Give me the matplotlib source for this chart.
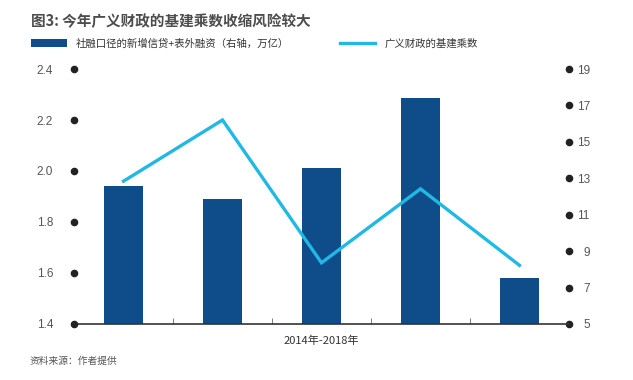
import matplotlib
matplotlib.use("Agg")
import matplotlib.pyplot as plt
from matplotlib.patches import Rectangle
from matplotlib.lines import Line2D

plt.rcParams['font.family'] = ['Noto Sans CJK SC', 'DejaVu Sans']

# data
years = ["2014", "2015", "2016", "2017", "2018"]
credit = [12.6, 11.85, 13.55, 17.4, 7.5]          # right axis, bars
multiplier = [1.96, 2.20, 1.64, 1.93, 1.63]       # left axis, line
left_ticks = [1.4, 1.6, 1.8, 2.0, 2.2, 2.4]
right_ticks = [5, 7, 9, 11, 13, 15, 17, 19]

bar_color = "#0F4C8A"
line_color = "#22B8E6"
text_gray = "#555555"

fig = plt.figure(figsize=(6.33, 3.8), dpi=100)
ax = fig.add_axes([0.1169, 0.1474, 0.782, 0.671])
ax2 = ax.twinx()
ax.set_zorder(ax2.get_zorder() + 1)
ax.patch.set_visible(False)

x = list(range(len(years)))
ax2.bar(x, credit, width=0.4, color=bar_color)
ax.plot(x, multiplier, color=line_color, linewidth=2.4, solid_joinstyle="miter")

ax.set_xlim(-0.5, 4.5)
ax.set_ylim(1.4, 2.4)
ax2.set_ylim(5, 19)

for a in (ax, ax2):
    for s in ("top", "left", "right"):
        a.spines[s].set_visible(False)
ax2.spines["bottom"].set_visible(False)
ax.spines["bottom"].set_color("#333333")
ax.spines["bottom"].set_linewidth(1.2)

# tick dots on both sides
ax.scatter([-0.5] * len(left_ticks), left_ticks, s=20, color="#222222",
           clip_on=False, zorder=6)
ax2.scatter([4.5] * len(right_ticks), right_ticks, s=20, color="#222222",
            clip_on=False, zorder=6)

num_font = "Liberation Sans"
ax.set_yticks(left_ticks)
ax.set_yticklabels([f"{v:.1f}" for v in left_ticks], family=num_font)
ax.tick_params(axis="y", length=0, pad=15, labelsize=8.5, labelcolor=text_gray)
ax2.set_yticks(right_ticks)
ax2.set_yticklabels([str(v) for v in right_ticks], family=num_font)
ax2.tick_params(axis="y", length=0, pad=15, labelsize=8.5, labelcolor=text_gray)
plt.setp(ax2.get_yticklabels(), ha="right")

# small separators between years
ax.set_xticks([0.5, 1.5, 2.5, 3.5])
ax.set_xticklabels([])
ax.tick_params(axis="x", direction="in", length=4, width=0.6, color="#666666")

# title, legend, labels
fig.text(0.049, 0.945, "图3: 今年广义财政的基建乘数收缩风险较大", fontsize=10.5,
         fontweight="bold", color="#4d4d4d", va="center")
fig.patches.append(Rectangle((0.049, 0.876), 0.057, 0.021, transform=fig.transFigure,
                             facecolor=bar_color, edgecolor="none"))
fig.text(0.120, 0.886, "社融口径的新增信贷+表外融资（右轴，万亿）", fontsize=7.5,
         color="#333333", va="center")
fig.lines.append(Line2D([0.537, 0.592], [0.886, 0.886], transform=fig.transFigure,
                        color=line_color, linewidth=2.4))
fig.text(0.608, 0.886, "广义财政的基建乘数", fontsize=7.5, color="#333333", va="center")

fig.text(0.507, 0.103, "2014年-2018年", fontsize=8, color="#333333",
         ha="center", va="center")
fig.text(0.047, 0.05, "资料来源：作者提供", fontsize=7, color=text_gray,
         style="italic", va="center")

fig.savefig("out.png", dpi=100)
